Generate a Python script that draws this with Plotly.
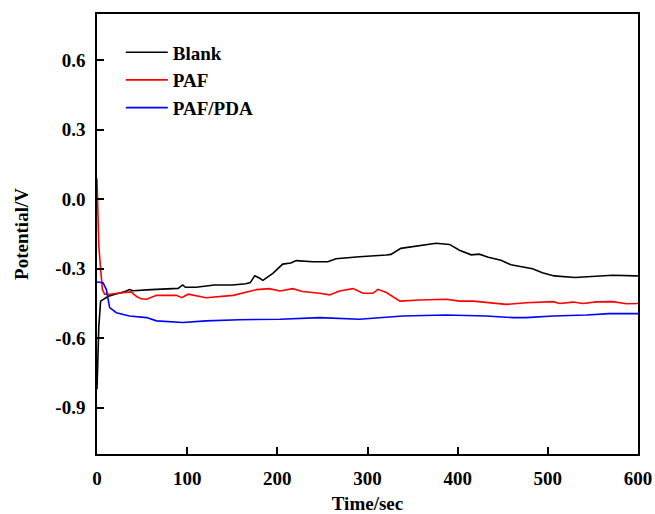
import plotly.graph_objects as go

blank_t = [0, 2, 4, 8, 12, 20, 30, 36, 40, 60, 80, 90, 95, 98, 110, 130, 150, 165, 170, 175, 180, 184, 195, 206, 215, 221, 239, 250, 256, 265, 291, 321, 326, 337, 358, 376, 391, 402, 415, 424, 434, 448, 459, 483, 494, 507, 530, 554, 572, 598, 600]
blank_v = [-0.82, -0.55, -0.44, -0.43, -0.42, -0.41, -0.40, -0.39, -0.395, -0.39, -0.385, -0.385, -0.37, -0.38, -0.38, -0.37, -0.37, -0.365, -0.36, -0.33, -0.34, -0.35, -0.32, -0.28, -0.275, -0.265, -0.27, -0.272, -0.27, -0.257, -0.248, -0.241, -0.238, -0.212, -0.2, -0.19, -0.195, -0.22, -0.24, -0.237, -0.25, -0.263, -0.283, -0.3, -0.317, -0.331, -0.338, -0.331, -0.328, -0.331, -0.33]

paf_t = [0, 1, 2, 3.8, 6, 8.5, 14, 25, 33, 38, 44, 49, 55, 66, 88, 94, 101, 121, 151, 169, 177, 191, 203, 217, 228, 247, 258, 269, 284, 295, 306, 311.6, 321, 336, 358, 387, 402, 417, 435, 454, 476, 506, 513, 528, 539, 554, 572, 587, 600]
paf_v = [0.09, -0.05, -0.2, -0.29, -0.39, -0.41, -0.41, -0.405, -0.40, -0.40, -0.42, -0.43, -0.432, -0.415, -0.415, -0.425, -0.41, -0.425, -0.415, -0.40, -0.39, -0.386, -0.396, -0.386, -0.398, -0.406, -0.413, -0.396, -0.386, -0.406, -0.406, -0.389, -0.403, -0.44, -0.435, -0.432, -0.44, -0.44, -0.446, -0.454, -0.447, -0.442, -0.45, -0.444, -0.45, -0.443, -0.442, -0.451, -0.45]

pda_t = [0, 6.7, 10.4, 14, 21.5, 36, 55, 66, 95, 121, 158, 203, 247, 291, 339, 387, 432, 461, 476, 506, 543, 568, 600]
pda_v = [-0.357, -0.36, -0.39, -0.468, -0.49, -0.504, -0.511, -0.525, -0.532, -0.525, -0.52, -0.518, -0.511, -0.518, -0.504, -0.5, -0.504, -0.511, -0.511, -0.504, -0.5, -0.494, -0.494]

x_ticks = [0, 100, 200, 300, 400, 500, 600]
y_ticks = [-0.9, -0.6, -0.3, 0.0, 0.3, 0.6]
y_tick_text = ["-0.9", "-0.6", "-0.3", "0.0", "0.3", "0.6"]

FONT = "Liberation Serif"

fig = go.Figure()
fig.add_trace(go.Scatter(x=blank_t, y=blank_v, mode="lines", name="<b>Blank</b>",
                         line=dict(color="#000000", width=1.6)))
fig.add_trace(go.Scatter(x=paf_t, y=paf_v, mode="lines", name="<b>PAF</b>",
                         line=dict(color="#ff0000", width=1.6)))
fig.add_trace(go.Scatter(x=pda_t, y=pda_v, mode="lines", name="<b>PAF/PDA</b>",
                         line=dict(color="#0000ff", width=1.6)))

axis_common = dict(showgrid=False, zeroline=False, showline=True, linecolor="black",
                   linewidth=1.5, mirror=True, ticks="inside", ticklen=7, tickwidth=1.5,
                   tickcolor="black", automargin=False,
                   tickfont=dict(family=FONT, size=19, color="black"))

fig.update_xaxes(range=[0, 600], tickvals=x_ticks, ticktext=[f"<b>{v}</b>" for v in x_ticks],
                 title=dict(text="<b>Time/sec</b>", font=dict(family=FONT, size=19, color="black"), standoff=13),
                 ticklabelstandoff=6, **axis_common)
fig.update_yaxes(range=[-1.1, 0.8], tickvals=y_ticks, ticktext=[f"<b>{t}</b>" for t in y_tick_text],
                 title=dict(text="<b>Potential/V</b>", font=dict(family=FONT, size=19, color="black"), standoff=22),
                 ticklabelstandoff=6, **axis_common)

fig.update_layout(
    width=655, height=514,
    margin=dict(l=97, r=17, t=14, b=60),
    paper_bgcolor="white", plot_bgcolor="white",
    showlegend=True,
    legend=dict(x=0.044, y=0.956, xanchor="left", yanchor="top", bgcolor="rgba(0,0,0,0)",
                itemwidth=42,
                font=dict(family=FONT, size=19, color="black"), tracegroupgap=0),
    font=dict(family=FONT, color="black"),
)

fig.write_html("out.html", config={"displayModeBar": False},
               post_script="document.body.style.margin='0';")
